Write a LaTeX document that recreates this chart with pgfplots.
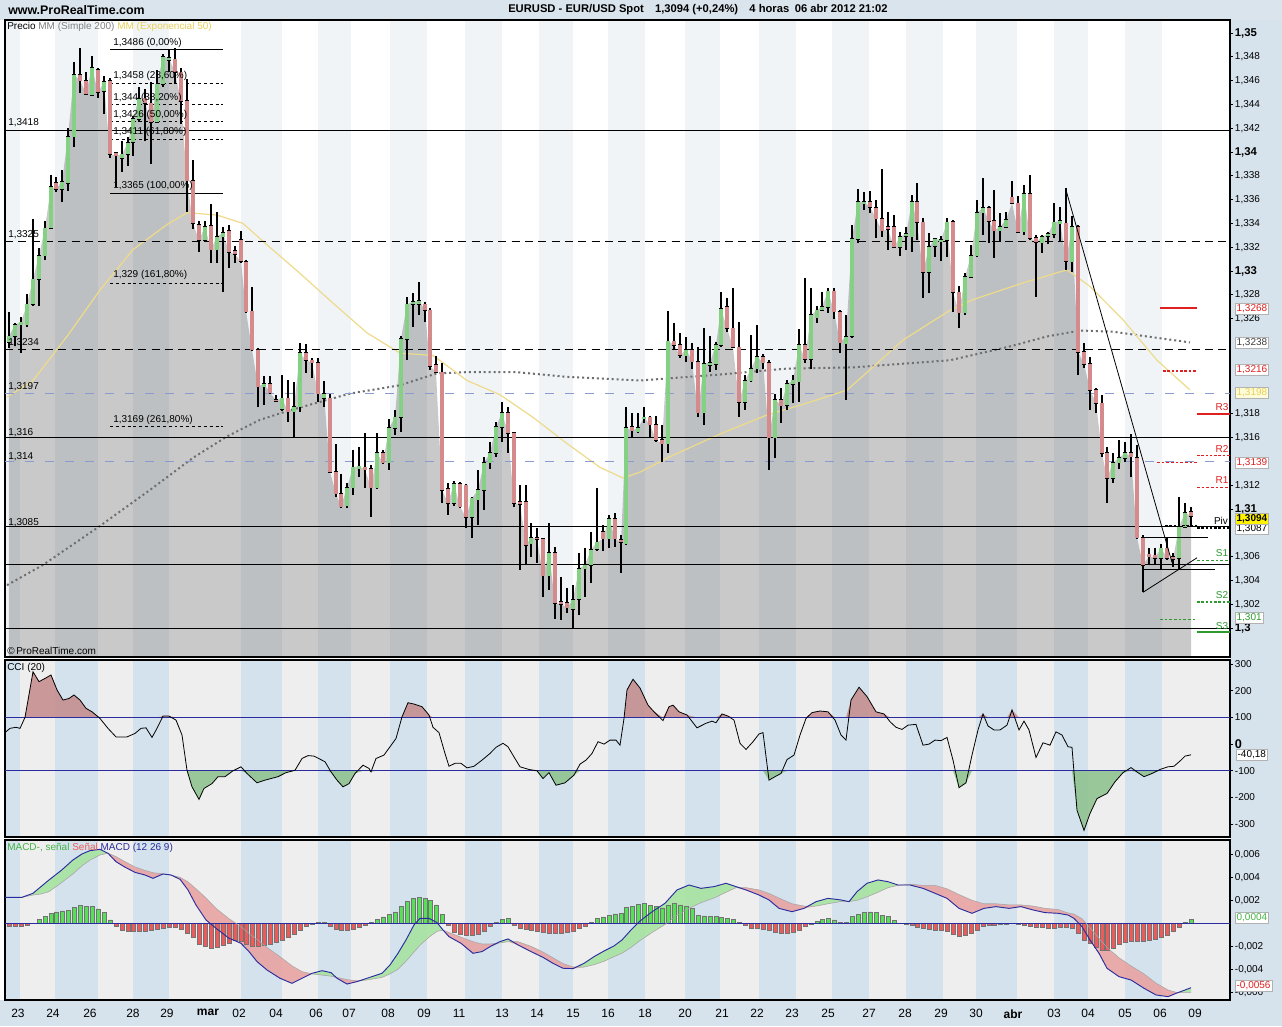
\documentclass[border=0pt]{standalone}
\usepackage{fontspec}
\setmainfont{Liberation Sans}
\usepackage{pgfplots}
\usepackage{pgfplotstable}
\pgfplotsset{compat=1.18}

\definecolor{bgblue}{HTML}{D7E3EC}
\definecolor{hdr}{HTML}{DAE4EC}
\definecolor{stripeB}{HTML}{D3E2EC}
\definecolor{stripeL}{HTML}{EEEEEE}
\definecolor{pstripe}{HTML}{F0F4F7}
\definecolor{cgreen}{HTML}{84D184}
\definecolor{cred}{HTML}{D58B8B}
\definecolor{emacol}{HTML}{EEDB8A}
\definecolor{emaT}{HTML}{E8CF5A}
\definecolor{smacol}{HTML}{6E6E6E}
\definecolor{lvlblue}{HTML}{8C9BCF}
\definecolor{navy}{HTML}{2B2BA0}
\definecolor{pivred}{HTML}{E02020}
\definecolor{pivgreen}{HTML}{2E9A2E}
\definecolor{cciRed}{HTML}{C48A8A}
\definecolor{cciGreen}{HTML}{8CC18C}
\definecolor{mGreen}{HTML}{A6E3A0}
\definecolor{mRed}{HTML}{E9A3A3}
\definecolor{hGreen}{HTML}{55E055}
\definecolor{hRed}{HTML}{EE5A5A}
\definecolor{yel}{HTML}{FFF200}

\newcommand\lbl{\fontsize{7.5}{9}\selectfont}
\newcommand\blbl{\fontsize{8.5}{9}\selectfont\bfseries}

\pgfplotstableread{
x o h l c
9 1.3240 1.3266 1.3235 1.3245
15 1.3245 1.3256 1.3237 1.3255
21 1.3255 1.3261 1.3231 1.3257
27 1.3255 1.3281 1.3253 1.3272
33 1.3272 1.3344 1.3271 1.3293
39 1.3293 1.3319 1.3271 1.3313
45 1.3313 1.3342 1.3309 1.3336
51 1.3336 1.3381 1.3335 1.3371
56 1.3374 1.3379 1.3366 1.3369
62 1.3369 1.3385 1.3358 1.3375
68 1.3374 1.3420 1.3367 1.3413
74 1.3413 1.3476 1.3404 1.3465
80 1.3465 1.3487 1.3450 1.3460
86 1.3460 1.3467 1.3448 1.3449
92 1.3448 1.3481 1.3447 1.3471
98 1.3469 1.3471 1.3445 1.3450
104 1.3451 1.3464 1.3432 1.3459
110 1.3460 1.3462 1.3395 1.3398
116 1.3399 1.3400 1.3371 1.3397
122 1.3395 1.3409 1.3383 1.3398
128 1.3398 1.3413 1.3388 1.3408
133 1.3408 1.3430 1.3397 1.3428
139 1.3428 1.3455 1.3425 1.3445
145 1.3445 1.3453 1.3409 1.3441
151 1.3441 1.3459 1.3390 1.3425
157 1.3425 1.3469 1.3424 1.3457
163 1.3457 1.3482 1.3455 1.3480
169 1.3477 1.3487 1.3467 1.3479
175 1.3478 1.3487 1.3457 1.3467
181 1.3467 1.3471 1.3424 1.3443
187 1.3443 1.3461 1.3350 1.3376
193 1.3376 1.3393 1.3335 1.3340
199 1.3339 1.3342 1.3316 1.3326
205 1.3326 1.3342 1.3324 1.3337
211 1.3338 1.3356 1.3307 1.3318
217 1.3318 1.3350 1.3307 1.3329
223 1.3329 1.3337 1.3282 1.3332
229 1.3334 1.3339 1.3303 1.3316
235 1.3317 1.3321 1.3307 1.3314
241 1.3326 1.3334 1.3307 1.3308
246 1.3308 1.3309 1.3265 1.3266
252 1.3266 1.3287 1.3233 1.3234
258 1.3234 1.3235 1.3186 1.3203
264 1.3203 1.3212 1.3187 1.3205
270 1.3205 1.3212 1.3197 1.3198
276 1.3192 1.3196 1.3190 1.3191
282 1.3184 1.3213 1.3182 1.3193
288 1.3193 1.3208 1.3173 1.3182
294 1.3182 1.3207 1.3160 1.3186
300 1.3186 1.3240 1.3182 1.3231
306 1.3231 1.3239 1.3214 1.3225
312 1.3225 1.3227 1.3210 1.3223
318 1.3223 1.3227 1.3190 1.3197
324 1.3193 1.3208 1.3186 1.3197
330 1.3193 1.3197 1.3130 1.3131
336 1.3131 1.3155 1.3110 1.3113
341 1.3113 1.3129 1.3101 1.3102
347 1.3103 1.3122 1.3101 1.3118
353 1.3118 1.3150 1.3112 1.3135
359 1.3134 1.3152 1.3127 1.3136
365 1.3135 1.3164 1.3118 1.3133
371 1.3134 1.3137 1.3093 1.3118
377 1.3118 1.3164 1.3117 1.3147
383 1.3147 1.3150 1.3138 1.3139
389 1.3139 1.3176 1.3133 1.3168
395 1.3168 1.3183 1.3162 1.3177
401 1.3177 1.3245 1.3165 1.3243
407 1.3243 1.3278 1.3225 1.3272
413 1.3272 1.3282 1.3253 1.3274
419 1.3272 1.3291 1.3263 1.3275
425 1.3272 1.3274 1.3257 1.3267
430 1.3267 1.3269 1.3217 1.3220
436 1.3221 1.3229 1.3214 1.3215
442 1.3215 1.3223 1.3105 1.3116
448 1.3117 1.3122 1.3095 1.3105
454 1.3105 1.3124 1.3103 1.3121
460 1.3121 1.3123 1.3101 1.3102
466 1.3120 1.3121 1.3084 1.3093
472 1.3093 1.3110 1.3076 1.3109
478 1.3108 1.3133 1.3087 1.3116
484 1.3116 1.3144 1.3099 1.3139
490 1.3139 1.3156 1.3134 1.3147
496 1.3147 1.3173 1.3144 1.3169
502 1.3169 1.3190 1.3156 1.3181
508 1.3181 1.3186 1.3147 1.3164
514 1.3164 1.3165 1.3102 1.3105
520 1.3106 1.3120 1.3049 1.3104
526 1.3106 1.3120 1.3053 1.3070
531 1.3071 1.3088 1.3060 1.3076
537 1.3076 1.3084 1.3055 1.3075
543 1.3075 1.3076 1.3026 1.3044
549 1.3044 1.3088 1.3032 1.3063
555 1.3063 1.3068 1.3008 1.3021
561 1.3022 1.3043 1.3007 1.3020
567 1.3021 1.3034 1.3013 1.3017
573 1.3016 1.3036 1.3000 1.3024
579 1.3024 1.3063 1.3011 1.3050
585 1.3050 1.3067 1.3026 1.3053
591 1.3053 1.3081 1.3038 1.3066
597 1.3066 1.3118 1.3065 1.3072
603 1.3081 1.3087 1.3065 1.3075
609 1.3075 1.3095 1.3067 1.3092
615 1.3092 1.3097 1.3068 1.3075
621 1.3074 1.3078 1.3046 1.3072
626 1.3071 1.3186 1.3070 1.3168
632 1.3169 1.3181 1.3160 1.3166
638 1.3165 1.3181 1.3164 1.3168
644 1.3176 1.3186 1.3172 1.3177
650 1.3177 1.3178 1.3161 1.3171
656 1.3171 1.3178 1.3156 1.3158
662 1.3158 1.3171 1.3140 1.3155
668 1.3155 1.3266 1.3147 1.3241
674 1.3241 1.3256 1.3234 1.3238
680 1.3238 1.3248 1.3227 1.3229
686 1.3229 1.3245 1.3224 1.3234
692 1.3234 1.3240 1.3218 1.3224
698 1.3224 1.3236 1.3177 1.3181
704 1.3181 1.3252 1.3171 1.3222
710 1.3221 1.3245 1.3215 1.3223
716 1.3222 1.3240 1.3217 1.3238
721 1.3238 1.3282 1.3236 1.3268
727 1.3270 1.3277 1.3249 1.3252
733 1.3252 1.3286 1.3235 1.3236
739 1.3236 1.3257 1.3177 1.3190
745 1.3190 1.3213 1.3183 1.3208
751 1.3208 1.3246 1.3207 1.3218
757 1.3218 1.3255 1.3214 1.3228
763 1.3228 1.3230 1.3218 1.3223
769 1.3223 1.3225 1.3133 1.3160
775 1.3160 1.3197 1.3143 1.3192
781 1.3192 1.3202 1.3172 1.3187
787 1.3187 1.3208 1.3183 1.3205
793 1.3205 1.3213 1.3189 1.3208
799 1.3207 1.3251 1.3190 1.3238
805 1.3238 1.3294 1.3223 1.3226
811 1.3226 1.3286 1.3218 1.3263
817 1.3261 1.3271 1.3256 1.3267
822 1.3267 1.3282 1.3266 1.3270
828 1.3270 1.3286 1.3265 1.3283
834 1.3283 1.3286 1.3260 1.3266
840 1.3266 1.3267 1.3231 1.3240
846 1.3239 1.3263 1.3192 1.3245
852 1.3245 1.3339 1.3244 1.3327
858 1.3327 1.3369 1.3324 1.3358
864 1.3357 1.3366 1.3351 1.3358
870 1.3358 1.3367 1.3349 1.3354
876 1.3353 1.3360 1.3328 1.3344
882 1.3344 1.3386 1.3329 1.3334
888 1.3337 1.3350 1.3318 1.3335
894 1.3337 1.3347 1.3319 1.3320
900 1.3320 1.3333 1.3313 1.3329
906 1.3329 1.3337 1.3318 1.3331
912 1.3329 1.3364 1.3316 1.3358
917 1.3358 1.3374 1.3326 1.3341
923 1.3341 1.3345 1.3277 1.3299
929 1.3299 1.3332 1.3282 1.3320
935 1.3321 1.3328 1.3312 1.3327
941 1.3325 1.3329 1.3308 1.3326
947 1.3326 1.3345 1.3312 1.3341
953 1.3341 1.3343 1.3266 1.3282
959 1.3282 1.3287 1.3252 1.3265
965 1.3265 1.3298 1.3263 1.3295
971 1.3295 1.3322 1.3294 1.3313
977 1.3313 1.3360 1.3312 1.3349
983 1.3349 1.3378 1.3330 1.3353
989 1.3353 1.3355 1.3324 1.3342
994 1.3342 1.3368 1.3311 1.3334
1000 1.3334 1.3349 1.3324 1.3337
1006 1.3337 1.3350 1.3336 1.3343
1012 1.3362 1.3376 1.3356 1.3357
1018 1.3357 1.3363 1.3332 1.3333
1024 1.3333 1.3372 1.3330 1.3365
1030 1.3365 1.3381 1.3326 1.3328
1036 1.3328 1.3330 1.3278 1.3324
1042 1.3324 1.3330 1.3315 1.3329
1048 1.3329 1.3333 1.3323 1.3331
1054 1.3331 1.3357 1.3328 1.3341
1060 1.3340 1.3354 1.3324 1.3342
1066 1.3340 1.3370 1.3301 1.3308
1072 1.3308 1.3346 1.3299 1.3337
1078 1.3337 1.3339 1.3213 1.3232
1084 1.3232 1.3240 1.3219 1.3222
1090 1.3222 1.3228 1.3183 1.3200
1096 1.3200 1.3202 1.3181 1.3189
1102 1.3189 1.3196 1.3144 1.3147
1107 1.3147 1.3152 1.3105 1.3126
1113 1.3126 1.3147 1.3122 1.3139
1119 1.3139 1.3158 1.3134 1.3143
1125 1.3143 1.3156 1.3140 1.3147
1131 1.3147 1.3163 1.3127 1.3144
1137 1.3143 1.3154 1.3075 1.3076
1143 1.3076 1.3078 1.3030 1.3053
1149 1.3062 1.3067 1.3053 1.3060
1155 1.3061 1.3067 1.3053 1.3059
1161 1.3059 1.3071 1.3050 1.3067
1167 1.3067 1.3076 1.3057 1.3059
1173 1.3060 1.3063 1.3051 1.3058
1179 1.3059 1.3110 1.3049 1.3085
1185 1.3085 1.3105 1.3084 1.3097
1191 1.3098 1.3102 1.3085 1.3094
}\candles

\pgfplotstableread{
x y
7 1.3036
43 1.3053
97 1.3084
150 1.3116
193 1.3143
227 1.3161
260 1.3175
290 1.3183
320 1.3190
350 1.3197
400 1.3204
437 1.3214
467 1.3215
517 1.3215
567 1.3211
640 1.3208
720 1.3213
787 1.3218
853 1.3219
950 1.3225
1007 1.3236
1047 1.3245
1080 1.3250
1113 1.3249
1147 1.3245
1190 1.3240
}\sma

\pgfplotstableread{
x y
7 1.3194
33 1.3208
67 1.3245
100 1.3284
133 1.3318
167 1.3339
187 1.3349
217 1.3347
243 1.3340
267 1.3322
300 1.3298
333 1.3273
367 1.3248
400 1.3231
433 1.3229
467 1.3208
500 1.3196
533 1.3177
567 1.3155
600 1.3135
623 1.3126
640 1.3131
670 1.3144
720 1.3163
767 1.3179
807 1.3189
847 1.3200
870 1.3217
903 1.3242
950 1.3267
973 1.3276
1023 1.3290
1067 1.3301
1090 1.3287
1123 1.3259
1157 1.3225
1190 1.3200
}\ema

\pgfplotstableread{
x v
4 40
10 59
16 63
20 59
25 100
33 271
39 234
45 246
51 259
57 203
63 165
69 171
74 184
80 165
86 134
92 121
100 96
108 59
116 27
127 27
135 40
141 59
146 61
152 25
157 59
163 105
169 105
176 90
182 34
187 -98
192 -160
199 -207
204 -166
212 -148
218 -122
225 -122
233 -100
241 -85
247 -110
257 -145
265 -135
278 -122
286 -107
295 -98
302 -54
308 -43
314 -45
325 -66
331 -104
337 -135
343 -160
349 -148
355 -110
363 -79
369 -91
371 -104
376 -54
384 -41
390 -10
396 21
402 102
408 155
414 150
422 140
429 109
433 63
439 43
445 -35
449 -83
455 -72
461 -72
467 -89
474 -83
482 -60
490 -35
496 -12
503 3
508 -10
514 -48
520 -85
529 -95
537 -100
543 -129
549 -107
556 -154
565 -145
574 -116
580 -75
586 -60
592 -35
598 9
604 0
610 15
616 15
620 -4
624 96
627 203
633 243
640 210
648 146
654 121
663 88
669 140
673 146
679 121
687 109
697 61
706 78
712 86
716 80
722 113
728 105
734 90
740 3
746 -20
753 9
759 38
763 43
769 -135
775 -122
781 -110
787 -58
794 -41
800 34
806 96
812 118
820 124
828 121
835 90
841 34
846 15
851 165
859 213
867 178
876 121
884 113
890 84
896 63
902 55
908 71
916 74
923 -4
929 0
935 15
941 13
947 25
953 -60
959 -163
966 -145
972 -41
978 53
983 113
988 68
994 53
1000 53
1007 71
1012 128
1019 53
1024 86
1029 53
1036 -50
1043 5
1050 -4
1056 46
1062 34
1068 -10
1072 -12
1077 -248
1084 -323
1090 -260
1097 -204
1107 -185
1115 -141
1123 -107
1131 -88
1138 -107
1144 -122
1152 -110
1160 -95
1168 -85
1174 -83
1181 -60
1185 -45
1191 -40
}\cci

\pgfplotstableread{
x m s
4 0.00226 0.00226
22 0.00226 0.00226
33 0.00261 0.00246
41 0.00319 0.00255
49 0.00377 0.00275
61 0.00458 0.00350
73 0.00551 0.00430
82 0.00603 0.00500
90 0.00632 0.00550
100 0.00643 0.00594
108 0.00609 0.00610
116 0.00536 0.00580
124 0.00493 0.00540
135 0.00443 0.00490
145 0.00420 0.00460
153 0.00391 0.00440
163 0.00429 0.00430
171 0.00420 0.00420
180 0.00383 0.00400
188 0.00290 0.00360
196 0.00159 0.00300
206 0.00029 0.00220
216 -0.00043 0.00130
229 -0.00130 0.00040
241 -0.00174 -0.00030
249 -0.00246 -0.00090
257 -0.00333 -0.00140
267 -0.00406 -0.00210
280 -0.00478 -0.00290
292 -0.00522 -0.00370
302 -0.00478 -0.00420
312 -0.00435 -0.00440
322 -0.00412 -0.00450
331 -0.00429 -0.00460
337 -0.00478 -0.00470
347 -0.00528 -0.00490
357 -0.00507 -0.00500
369 -0.00472 -0.00490
382 -0.00435 -0.00470
390 -0.00362 -0.00440
398 -0.00261 -0.00400
406 -0.00145 -0.00330
414 -0.00014 -0.00250
420 0.00043 -0.00190
429 0.00043 -0.00120
437 0.00006 -0.00070
443 -0.00058 -0.00060
449 -0.00116 -0.00080
461 -0.00174 -0.00120
473 -0.00261 -0.00160
482 -0.00246 -0.00180
490 -0.00203 -0.00180
500 -0.00159 -0.00170
508 -0.00136 -0.00160
518 -0.00188 -0.00160
531 -0.00246 -0.00200
543 -0.00296 -0.00250
553 -0.00348 -0.00300
563 -0.00391 -0.00350
573 -0.00394 -0.00380
584 -0.00348 -0.00380
594 -0.00290 -0.00360
604 -0.00241 -0.00330
614 -0.00197 -0.00290
622 -0.00145 -0.00260
631 -0.00058 -0.00210
640 0.00020 -0.00150
652 0.00100 -0.00080
665 0.00174 -0.00010
677 0.00290 0.00070
689 0.00333 0.00130
701 0.00304 0.00180
714 0.00319 0.00220
726 0.00348 0.00270
736 0.00319 0.00310
746 0.00290 0.00310
759 0.00246 0.00290
769 0.00203 0.00260
779 0.00130 0.00220
792 0.00101 0.00170
804 0.00130 0.00150
816 0.00188 0.00150
828 0.00217 0.00170
841 0.00203 0.00190
849 0.00188 0.00190
857 0.00275 0.00200
867 0.00348 0.00230
878 0.00377 0.00270
888 0.00362 0.00310
898 0.00333 0.00330
910 0.00333 0.00340
923 0.00304 0.00330
935 0.00261 0.00330
947 0.00217 0.00300
959 0.00130 0.00250
972 0.00087 0.00200
984 0.00130 0.00170
996 0.00145 0.00170
1009 0.00130 0.00160
1021 0.00145 0.00160
1033 0.00116 0.00150
1045 0.00093 0.00130
1058 0.00087 0.00120
1068 0.00072 0.00090
1074 0.00043 0.00080
1082 -0.00029 0.00040
1090 -0.00145 -0.00040
1099 -0.00261 -0.00130
1107 -0.00391 -0.00210
1119 -0.00464 -0.00300
1131 -0.00493 -0.00370
1144 -0.00565 -0.00440
1156 -0.00623 -0.00520
1168 -0.00638 -0.00580
1176 -0.00609 -0.00600
1185 -0.00580 -0.00600
1191 -0.00560 -0.00600
}\macd

% polygon helper tables for the MACD / signal bands
\pgfplotstablecreatecol[create col/expr={min(\thisrow{m},\thisrow{s})}]{n}{\macd}
\pgfplotstablesort[sort key=x, sort cmp=float >]{\macdpoly}{\macd}
\pgfplotstablecreatecol[create col/expr={\thisrow{n}}]{gA}{\macdpoly}
\pgfplotstablecreatecol[create col/expr={\thisrow{n}}]{rA}{\macdpoly}
\pgfplotstablecreatecol[create col/expr={\thisrow{m}}]{gA}{\macd}
\pgfplotstablecreatecol[create col/expr={\thisrow{s}}]{rA}{\macd}
\pgfplotstablevertcat{\macdpoly}{\macd}

\pgfplotstableread{
x h
9 -0.00023
15 -0.00023
21 -0.00023
27 -0.00017
33 0.00002
39 0.00035
45 0.00058
51 0.00087
56 0.00100
62 0.00107
68 0.00114
74 0.00140
80 0.00155
86 0.00150
92 0.00145
98 0.00125
104 0.00095
110 0.00029
116 -0.00029
122 -0.00064
128 -0.00072
133 -0.00072
139 -0.00072
145 -0.00068
151 -0.00064
157 -0.00055
163 -0.00040
169 -0.00030
175 -0.00032
181 -0.00050
187 -0.00087
193 -0.00125
199 -0.00185
205 -0.00200
211 -0.00215
217 -0.00205
223 -0.00188
229 -0.00170
235 -0.00145
241 -0.00155
246 -0.00178
252 -0.00200
258 -0.00200
264 -0.00190
270 -0.00180
276 -0.00165
282 -0.00145
288 -0.00120
294 -0.00095
300 -0.00060
306 -0.00029
312 -0.00008
318 0.00008
324 0.00010
330 -0.00025
336 -0.00050
341 -0.00062
347 -0.00060
353 -0.00050
359 -0.00030
365 -0.00017
371 0.00010
377 0.00032
383 0.00055
389 0.00075
395 0.00100
401 0.00150
407 0.00192
413 0.00218
419 0.00226
425 0.00220
430 0.00200
436 0.00160
442 0.00080
448 -0.00015
454 -0.00080
460 -0.00095
466 -0.00100
472 -0.00101
478 -0.00095
484 -0.00070
490 -0.00029
496 0.00010
502 0.00035
508 0.00043
514 -0.00014
520 -0.00040
526 -0.00050
531 -0.00058
537 -0.00068
543 -0.00076
549 -0.00083
555 -0.00087
561 -0.00083
567 -0.00077
573 -0.00068
579 -0.00046
585 -0.00025
591 0.00010
597 0.00045
603 0.00056
609 0.00072
615 0.00081
621 0.00085
626 0.00140
632 0.00150
638 0.00165
644 0.00174
650 0.00159
656 0.00145
662 0.00135
668 0.00155
674 0.00172
680 0.00160
686 0.00145
692 0.00130
698 0.00072
704 0.00064
710 0.00058
716 0.00058
721 0.00052
727 0.00045
733 0.00035
739 0.00010
745 -0.00020
751 -0.00040
757 -0.00043
763 -0.00048
769 -0.00060
775 -0.00080
781 -0.00090
787 -0.00090
793 -0.00080
799 -0.00060
805 -0.00025
811 -0.00005
817 0.00014
822 0.00036
828 0.00043
834 0.00030
840 0.00010
846 0.00010
852 0.00060
858 0.00080
864 0.00093
870 0.00100
876 0.00093
882 0.00072
888 0.00058
894 0.00025
900 0.00002
906 -0.00010
912 -0.00020
917 -0.00035
923 -0.00043
929 -0.00052
935 -0.00058
941 -0.00064
947 -0.00072
953 -0.00095
959 -0.00110
965 -0.00100
971 -0.00090
977 -0.00058
983 -0.00025
989 -0.00015
994 -0.00015
1000 -0.00008
1006 -0.00006
1012 0.00002
1018 -0.00005
1024 -0.00015
1030 -0.00023
1036 -0.00035
1042 -0.00035
1048 -0.00043
1054 -0.00043
1060 -0.00035
1066 -0.00035
1072 -0.00043
1078 -0.00090
1084 -0.00145
1090 -0.00174
1096 -0.00205
1102 -0.00230
1107 -0.00232
1113 -0.00215
1119 -0.00185
1125 -0.00165
1131 -0.00159
1137 -0.00159
1143 -0.00159
1149 -0.00150
1155 -0.00140
1161 -0.00120
1167 -0.00100
1173 -0.00070
1179 -0.00030
1185 0.00010
1191 0.00035
}\hist

\pgfplotsset{panel/.style={
  anchor=north west, scale only axis, width=918.75pt,
  xmin=5, xmax=1230, xtick=\empty,
  ytick pos=right, yticklabel pos=right,
  tick align=outside, major tick length=2.5pt,
  ytick style={black, line width=0.5pt},
  yticklabel style={font=\lbl, inner sep=1pt},
  axis line style={black, line width=0.8pt},
  clip=true},
  candle/.style={only marks, mark size=0pt, mark options={draw=none, fill=none},
    error bars/.cd, y dir=both, y explicit, error mark=none}}

\begin{document}
\begin{tikzpicture}
\begin{scope}[x=0.75pt,y=-0.75pt]
\path[use as bounding box] (0,0) rectangle (1282,1026);
\fill[bgblue] (0,0) rectangle (1282,1026);
\fill[hdr] (0,0) rectangle (1282,19.5);
\fill[white] (0,19.5) rectangle (1230,1000);
\fill[stripeL] (5,660) rectangle (1230,837);
\fill[stripeL] (5,840) rectangle (1230,1000);
\foreach \a/\b in {5/20,55/98,133/169,241/282,318/351,390/427,465/502,539/573,608/645,685/720,759/796,832/869,906/943,976/1017,1054/1088,1125/1162}{
  \fill[pstripe] (\a,20) rectangle (\b,657);
  \fill[stripeB] (\a,660) rectangle (\b,837);
  \fill[stripeB] (\a,840) rectangle (\b,1000);}
\end{scope}

% ---------------- price panel
\begin{axis}[panel, at={(3.75pt,-15pt)}, height=477.75pt,
  ymin=1.297563, ymax=1.351092,
  ytick={1.300,1.302,1.304,1.306,1.310,1.312,1.316,1.318,1.326,1.328,1.330,1.332,1.334,1.336,1.338,1.340,1.342,1.344,1.346,1.348,1.350},
  yticklabels={{\blbl 1,3},{1,302},{1,304},{1,306},{\blbl 1,31},{1,312},{1,316},{1,318},{1,326},{1,328},{\blbl 1,33},{1,332},{1,334},{1,336},{1,338},{\blbl 1,34},{1,342},{1,344},{1,346},{1,348},{\blbl 1,35}}]
\addplot[fill=black, fill opacity=0.21, draw=none] table[x=x,y=c]{\candles} -- (axis cs:1191,1.29) -- (axis cs:9,1.29) -- cycle;
\addplot[smacol, line width=1.5pt, dash pattern=on 1.5pt off 2.2pt] table[x=x,y=y]{\sma};
\addplot[emacol, line width=0.9pt] table[x=x,y=y]{\ema};
% horizontal levels
\draw[black, line width=0.75pt] (axis cs:5,1.3418) -- (axis cs:1230,1.3418);
\draw[black, line width=0.75pt] (axis cs:5,1.3160) -- (axis cs:1230,1.3160);
\draw[black, line width=0.75pt] (axis cs:5,1.3085) -- (axis cs:1230,1.3085);
\draw[black, line width=0.75pt] (axis cs:5,1.3053) -- (axis cs:1230,1.3053);
\draw[black, line width=0.75pt] (axis cs:5,1.3000) -- (axis cs:1230,1.3000);
\draw[black, line width=0.75pt, dash pattern=on 6pt off 4pt] (axis cs:5,1.3325) -- (axis cs:1230,1.3325);
\draw[black, line width=0.75pt, dash pattern=on 6pt off 4pt] (axis cs:5,1.3234) -- (axis cs:1230,1.3234);
\draw[lvlblue, line width=0.6pt, dash pattern=on 7pt off 8pt] (axis cs:5,1.3197) -- (axis cs:1230,1.3197);
\draw[lvlblue, line width=0.6pt, dash pattern=on 7pt off 8pt] (axis cs:5,1.3140) -- (axis cs:1230,1.3140);
% fibonacci
\draw[black, line width=0.75pt] (axis cs:110,1.3486) -- (axis cs:223,1.3486);
\draw[black, line width=0.75pt] (axis cs:110,1.3365) -- (axis cs:223,1.3365);
\foreach \fy in {1.3458,1.3440,1.3426,1.3411,1.3290,1.3169}{
  \edef\tmp{\noexpand\draw[black, line width=0.6pt, dash pattern=on 2.2pt off 2.2pt] (axis cs:110,\fy) -- (axis cs:223,\fy);}\tmp}
% candles
\addplot[candle, error bar style={draw=black, line width=1.25pt}]
  table[x=x, y expr={(\thisrow{h}+\thisrow{l})/2}, y error expr={(\thisrow{h}-\thisrow{l})/2}]{\candles};
\addplot[candle, error bar style={draw=black, line width=3.5pt}]
  table[x=x, y expr={(\thisrow{o}+\thisrow{c})/2}, y error expr={abs(\thisrow{o}-\thisrow{c})/2+0.00006}]{\candles};
\addplot[candle, error bar style={draw=cgreen, line width=2.5pt}]
  table[x=x, y expr={(\thisrow{o}+\thisrow{c})/2}, y error expr={max(\thisrow{c}-\thisrow{o},0)/2}]{\candles};
\addplot[candle, error bar style={draw=cred, line width=2.5pt}]
  table[x=x, y expr={(\thisrow{o}+\thisrow{c})/2}, y error expr={max(\thisrow{o}-\thisrow{c},0)/2}]{\candles};
% trend lines
\draw[black, line width=0.6pt] (axis cs:1066,1.3368) -- (axis cs:1172,1.3055);
\draw[black, line width=0.6pt] (axis cs:1143,1.3030) -- (axis cs:1197,1.3059);
\draw[black, line width=0.75pt] (axis cs:1143,1.3076) -- (axis cs:1208,1.3076);
\draw[black, line width=0.75pt] (axis cs:1143,1.3049) -- (axis cs:1215,1.3049);
% pivots previous
\draw[pivred, line width=1.5pt] (axis cs:1160,1.3269) -- (axis cs:1197,1.3269);
\draw[pivred, line width=1.2pt, dash pattern=on 2pt off 1.2pt] (axis cs:1163,1.3216) -- (axis cs:1197,1.3216);
\draw[pivred, line width=0.6pt, dash pattern=on 2pt off 1.5pt] (axis cs:1157,1.3139) -- (axis cs:1197,1.3139);
\draw[black, line width=1.2pt, dash pattern=on 2pt off 1.2pt] (axis cs:1165,1.3086) -- (axis cs:1197,1.3086);
\draw[pivgreen, line width=0.6pt, dash pattern=on 2pt off 1.5pt] (axis cs:1160,1.3007) -- (axis cs:1197,1.3007);
% pivots current
\draw[pivred, line width=1.5pt] (axis cs:1197,1.3180) -- (axis cs:1230,1.3180);
\draw[pivred, line width=1.2pt, dash pattern=on 2pt off 1.2pt] (axis cs:1197,1.3145) -- (axis cs:1230,1.3145);
\draw[pivred, line width=0.6pt, dash pattern=on 2pt off 1.5pt] (axis cs:1197,1.3118) -- (axis cs:1230,1.3118);
\draw[black, line width=1.2pt, dash pattern=on 2pt off 1.2pt] (axis cs:1197,1.3084) -- (axis cs:1230,1.3084);
\draw[pivgreen, line width=0.6pt, dash pattern=on 2pt off 1.5pt] (axis cs:1197,1.3057) -- (axis cs:1230,1.3057);
\draw[pivgreen, line width=1.2pt, dash pattern=on 2pt off 1.2pt] (axis cs:1197,1.3022) -- (axis cs:1230,1.3022);
\draw[pivgreen, line width=1.5pt] (axis cs:1197,1.2997) -- (axis cs:1230,1.2997);
\end{axis}

% ---------------- CCI panel
\begin{axis}[panel, at={(3.75pt,-495pt)}, height=132.75pt,
  ymin=-348, ymax=315,
  ytick={-300,-200,-100,0,100,200,300},
  yticklabels={-300,-200,-100,{\fontsize{9.5}{10}\selectfont\bfseries 0},100,200,300}]
\addplot[fill=cciRed, fill opacity=0.85, draw=none] table[x=x, y expr={max(\thisrow{v},100)}]{\cci} -- (axis cs:1191,100) -- (axis cs:4,100) -- cycle;
\addplot[fill=cciGreen, fill opacity=0.85, draw=none] table[x=x, y expr={min(\thisrow{v},-100)}]{\cci} -- (axis cs:1191,-100) -- (axis cs:4,-100) -- cycle;
\draw[navy, line width=0.7pt] (axis cs:5,100) -- (axis cs:1230,100);
\draw[navy, line width=0.7pt] (axis cs:5,-100) -- (axis cs:1230,-100);
\addplot[black, line width=0.6pt] table[x=x,y=v]{\cci};
\end{axis}

% ---------------- MACD panel
\begin{axis}[panel, at={(3.75pt,-630pt)}, height=120pt,
  ymin=-0.00667, ymax=0.007243,
  scaled y ticks=false,
  ytick={-0.006,-0.004,-0.002,0.002,0.004,0.006},
  yticklabels={{-0,006},{-0,004},{-0,002},{0,002},{0,004},{0,006}},
  xtick={18,53,90,133,167,208,239,276,316,349,388,424,459,502,537,573,608,645,685,722,757,792,828,869,905,941,976,1013,1054,1088,1125,1160,1195},
  xticklabels={23,24,26,28,29,\textbf{mar},02,04,06,07,08,09,11,13,14,15,16,18,20,21,22,23,25,27,28,29,30,\textbf{abr},03,04,05,06,09},
  xtick style={draw=none},
  xticklabel style={font=\fontsize{9}{10}\selectfont, yshift=-1pt}]
\addplot[fill=mGreen, fill opacity=0.9, draw=none] table[x=x,y=gA]{\macdpoly} -- cycle;
\addplot[fill=mRed, fill opacity=0.9, draw=none] table[x=x,y=rA]{\macdpoly} -- cycle;
\addplot[ybar, bar width=3pt, bar shift=0pt, fill=hGreen, draw=black!55, line width=0.3pt]
  table[x=x, y expr={max(\thisrow{h},0)}]{\hist};
\addplot[ybar, bar width=3pt, bar shift=0pt, fill=hRed, draw=black!55, line width=0.3pt]
  table[x=x, y expr={min(\thisrow{h},0)}]{\hist};
\draw[navy, line width=0.8pt] (axis cs:5,0) -- (axis cs:1230,0);
\addplot[black!35, line width=0.4pt] table[x=x,y=s]{\macd};
\addplot[navy, line width=0.7pt] table[x=x,y=m]{\macd};
\end{axis}

% ---------------- texts and boxes
\begin{scope}[x=0.75pt,y=-0.75pt,
  box/.style={anchor=west, draw=gray!60, fill=white, inner sep=1pt, font=\lbl, line width=0.4pt}]
\node[anchor=west, font=\fontsize{9.3}{10}\selectfont\bfseries, inner sep=0] at (8,10) {www.ProRealTime.com};
\node[anchor=west, font=\fontsize{8.4}{10}\selectfont\bfseries, inner sep=0] at (508,10) {EURUSD - EUR/USD Spot\quad 1,3094 (+0,24\%)\quad 4 horas\enspace 06 abr 2012 21:02};
\node[anchor=west, font=\lbl, inner sep=0] at (7,27) {Precio \textcolor{gray}{MM (Simple 200)} \textcolor{emaT}{MM (Exponencial 50)}};
\node[anchor=west, font=\lbl, inner sep=0] at (7,651) {\textcopyright\,ProRealTime.com};
\node[anchor=west, font=\lbl, inner sep=0] at (7,668) {CCI (20)};
\node[anchor=west, font=\lbl, inner sep=0] at (7,848) {\textcolor{hGreen!80!black}{MACD-, señal} \textcolor{hRed}{Señal} \textcolor{navy}{MACD (12 26 9)}};
% level labels
\foreach \yy/\tt in {123/{1,3418},235/{1,3325},343/{1,3234},387/{1,3197},433/{1,316},457/{1,314},523/{1,3085}}{
  \node[anchor=west, font=\lbl, inner sep=0] at (8,\yy) {\tt};}
% fib labels
\foreach \yy/\tt in {43/{1,3486 (0,00\%)},76/{1,3458 (23,60\%)},98/{1,344 (38,20\%)},115/{1,3426 (50,00\%)},132/{1,3411 (61,80\%)},186/{1,3365 (100,00\%)},275/{1,329 (161,80\%)},420/{1,3169 (261,80\%)}}{
  \node[anchor=west, font=\lbl, inner sep=0] at (113,\yy) {\tt};}
% pivot labels
\node[font=\lbl, text=pivred, inner sep=0] at (1222,407) {R3};
\node[font=\lbl, text=pivred, inner sep=0] at (1222,449) {R2};
\node[font=\lbl, text=pivred, inner sep=0] at (1222,480) {R1};
\node[font=\lbl, inner sep=0] at (1221,521) {Piv};
\node[font=\lbl, text=pivgreen, inner sep=0] at (1222,553) {S1};
\node[font=\lbl, text=pivgreen, inner sep=0] at (1222,595) {S2};
\node[font=\lbl, text=pivgreen, inner sep=0] at (1222,626) {S3};
% value boxes price
\node[box, text=pivred] at (1235,309) {1,3268};
\node[box, text=black!75] at (1235,343) {1,3238};
\node[box, text=pivred] at (1235,370) {1,3216};
\node[box, text=emaT, fill=yellow!15] at (1235,393) {1,3198};
\node[box, text=pivred] at (1235,463) {1,3139};
\node[box] at (1235,529) {1,3087};
\node[box, fill=yel, font=\lbl\bfseries] at (1235,519) {1,3094};
\node[box, text=pivgreen] at (1235,618) {1,301};
% CCI box
\node[box] at (1236,755) {-40,18};
% MACD boxes
\node[box, text=hGreen!80!black] at (1235,918) {0,0004};
\node[box, text=pivred] at (1235,986) {-0,0056};
\end{scope}
\end{tikzpicture}
\end{document}
